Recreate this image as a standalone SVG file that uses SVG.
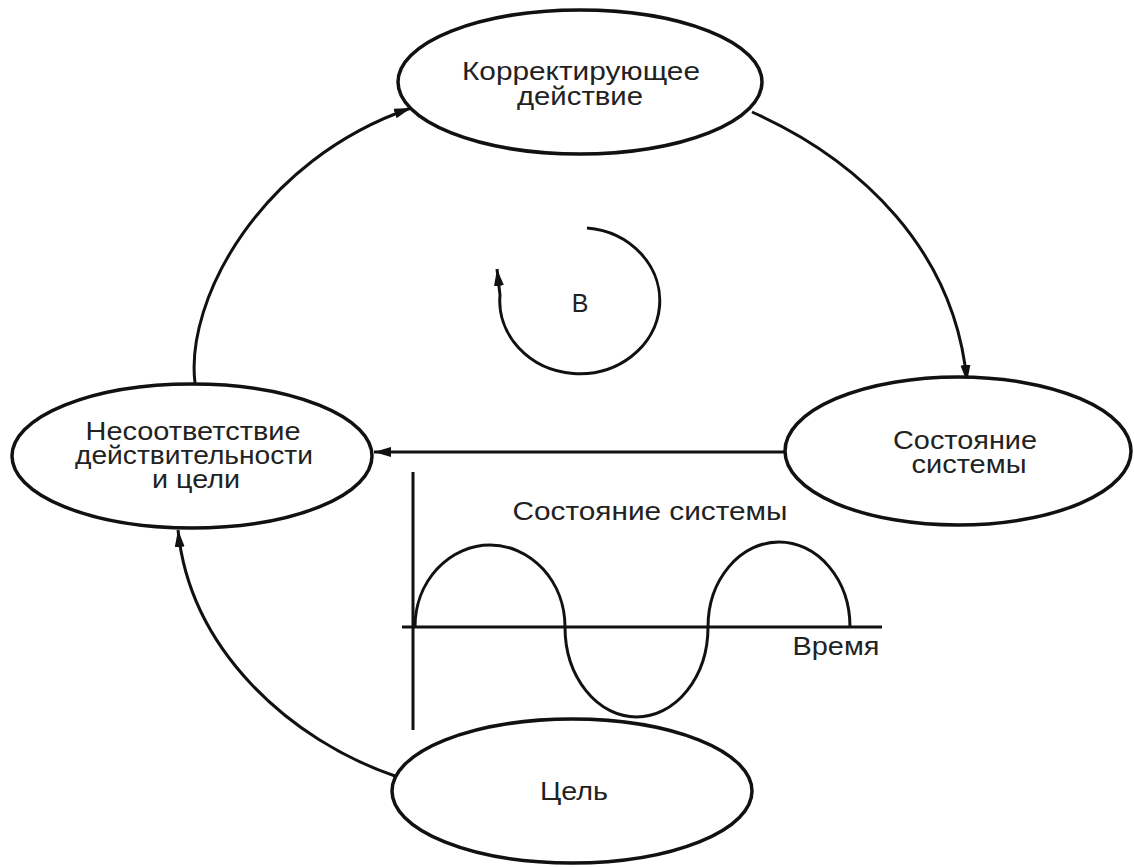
<svg xmlns="http://www.w3.org/2000/svg" width="1134" height="867" viewBox="0 0 1134 867">
<style>
.node{fill:#fff;stroke:#111;stroke-width:3.5}
.lbl{font-family:"Liberation Sans",Arial,sans-serif;font-size:25px;fill:#222;text-anchor:middle}
.con{fill:none;stroke:#111;stroke-width:3}
</style>
<defs>
<marker id="ah" markerUnits="userSpaceOnUse" markerWidth="18" markerHeight="11" refX="17" refY="5" orient="auto">
<path d="M0,0 L17,5 L0,10 Z" fill="#111"/>
</marker>
</defs>
<rect width="1134" height="867" fill="#fff"/>
<g id="connectors">
<path class="con" d="M195,383 C185,300 260,160 411,108" marker-end="url(#ah)"/>
<path class="con" d="M752,112 C860,160 955,250 967,382" marker-end="url(#ah)"/>
<path class="con" d="M784,452 L374,452" marker-end="url(#ah)"/>
<path class="con" d="M395,776 C290,740 190,650 178,530" marker-end="url(#ah)"/>
<path class="con" d="M587,228 A80,73 0 1 1 500,295 L497,269" marker-end="url(#ah)"/>
</g>
<g id="node-action">
<ellipse class="node" cx="580" cy="82" rx="182" ry="72"/>
<text class="lbl" x="581" y="80" textLength="238" lengthAdjust="spacingAndGlyphs">Корректирующее</text>
<text class="lbl" x="580" y="105" textLength="126" lengthAdjust="spacingAndGlyphs">действие</text>
</g>
<g id="node-gap">
<ellipse class="node" cx="192" cy="456" rx="180" ry="72"/>
<text class="lbl" x="193" y="440" textLength="215" lengthAdjust="spacingAndGlyphs">Несоответствие</text>
<text class="lbl" x="194" y="464" textLength="238" lengthAdjust="spacingAndGlyphs">действительности</text>
<text class="lbl" x="196" y="488" textLength="88" lengthAdjust="spacingAndGlyphs">и цели</text>
</g>
<g id="node-state">
<ellipse class="node" cx="958" cy="451" rx="173" ry="74"/>
<text class="lbl" x="965" y="449" textLength="144" lengthAdjust="spacingAndGlyphs">Состояние</text>
<text class="lbl" x="969" y="473" textLength="115" lengthAdjust="spacingAndGlyphs">системы</text>
</g>
<g id="node-goal">
<ellipse class="node" cx="572" cy="791" rx="180" ry="72"/>
<text class="lbl" x="574" y="800" textLength="68" lengthAdjust="spacingAndGlyphs">Цель</text>
</g>
<g id="loop-label">
<text class="lbl" x="580" y="312">В</text>
</g>
<g id="chart">
<line class="con" x1="413" y1="472" x2="413" y2="730"/>
<line class="con" x1="402" y1="627" x2="882" y2="627"/>
<path class="con" d="M415,627 A75,82 0 0 1 565,627 A71.5,90 0 0 0 708,627 A71,85 0 0 1 850,627"/>
<text class="lbl" x="650" y="520" textLength="275" lengthAdjust="spacingAndGlyphs">Состояние системы</text>
<text class="lbl" x="836" y="655" textLength="87" lengthAdjust="spacingAndGlyphs">Время</text>
</g>
</svg>
